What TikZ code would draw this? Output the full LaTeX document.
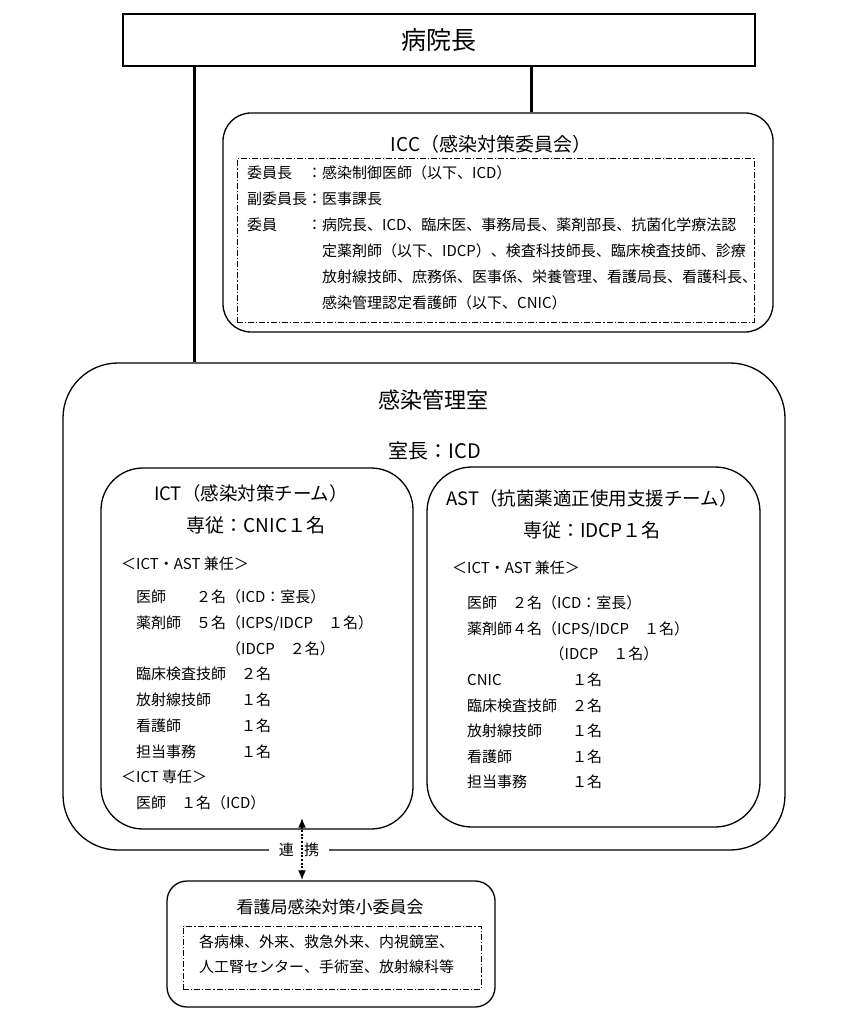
\documentclass[tikz,border=0pt]{standalone}
\usepackage{fontspec}
\setmainfont{Noto Sans CJK JP}
\usetikzlibrary{matrix,calc,arrows.meta}

\begin{document}
\begin{tikzpicture}[x=1pt,y=-1pt,font=\fontsize{15}{18}\selectfont,
 rbox/.style={draw,line width=1.3pt,inner sep=0pt,rounded corners=#1},
 ddbox/.style={draw,line width=1pt,inner sep=0pt,
 dash pattern=on 6pt off 2pt on 1.2pt off 2pt},
 conn/.style={line width=3pt},
 arr/.style={{Latex[length=10pt,width=8pt]}-{Latex[length=10pt,width=8pt]},
 line width=2.4pt,dash pattern=on 2pt off 1.6pt},
 ttl/.style={inner sep=0pt,font=\fontsize{#1}{#1}\selectfont},
 lst/.style={matrix of nodes,inner sep=0pt,anchor=north west,row sep=#1,
 nodes={anchor=west,inner sep=0pt,text height=13.5pt,text depth=2.5pt}},
 ]
 \useasboundingbox (0,0) rectangle (855,1024);
 \coordinate (xl) at (194,0);
 \coordinate (xr) at (531,0);
 \coordinate (xa) at (302,0);
 % head
 \node[draw,line width=2pt,minimum width=632pt,minimum height=52pt,
 font=\fontsize{25}{25}\selectfont] (head) at (439,40) {病院長};
 % ICC
 \node[rbox=28pt,minimum width=550pt,minimum height=219pt] (icc) at (498,222.5) {};
 \node[ttl=19] (icct) at (491,144) {ICC（感染対策委員会）};
 \node[ddbox,minimum width=517pt,minimum height=163pt] (iccd) at (495.5,240.5) {};
 \matrix[lst=10pt] (iccl) at (247,165) {
 委員長　：感染制御医師（以下、ICD）\\
 副委員長：医事課長\\
 委員　　：病院長、ICD、臨床医、事務局長、薬剤部長、抗菌化学療法認\\
 　　　　　定薬剤師（以下、IDCP）、検査科技師長、臨床検査技師、診療\\
 　　　　　放射線技師、庶務係、医事係、栄養管理、看護局長、看護科長、\\
 　　　　　感染管理認定看護師（以下、CNIC）\\
 };
 % kansen kanri shitsu
 \node[rbox=55pt,minimum width=722pt,minimum height=487pt] (kanri) at (424,606.5) {};
 \node[ttl=22] (kanrit) at (433,400) {感染管理室};
 \node[ttl=20] (kanris) at (435,451) {室長：ICD};
 % ICT
 \node[rbox=42pt,minimum width=312pt,minimum height=361pt] (ict) at (257,648.5) {};
 \node[ttl=18.5] (ictt) at (251,493) {ICT（感染対策チーム）};
 \node[ttl=19] (icts) at (256,525) {専従：CNIC１名};
 \matrix[lst=9.75pt] (ictl) at (121,556) {
 ＜ICT・AST 兼任＞\\[7.25pt]
 　医師　　２名（ICD：室長）\\
 　薬剤師　５名（ICPS/IDCP　１名）\\
 　　　　　　　（IDCP　２名）\\
 　臨床検査技師　２名\\
 　放射線技師　　１名\\
 　看護師　　　　１名\\
 　担当事務　　　１名\\
 ＜ICT 専任＞\\
 　医師　１名（ICD）\\
 };
 % AST
 \node[rbox=45pt,minimum width=333pt,minimum height=360pt] (ast) at (593.5,647) {};
 \node[ttl=18.5] (astt) at (592,498) {AST（抗菌薬適正使用支援チーム）};
 \node[ttl=19] (asts) at (592,530) {専従：IDCP１名};
 \matrix[lst=9.6pt] (astl) at (452,560) {
 ＜ICT・AST 兼任＞\\[9.4pt]
 　医師　２名（ICD：室長）\\
 　薬剤師４名（ICPS/IDCP　１名）\\
 　　　　　　\hspace{0.5em}（IDCP　１名）\\
 　\makebox[7em][l]{CNIC}１名\\
 　臨床検査技師　２名\\
 　放射線技師　　１名\\
 　看護師　　　　１名\\
 　担当事務　　　１名\\
 };
 % kangokyoku
 \node[rbox=20pt,minimum width=328pt,minimum height=126pt] (sub) at (331,944) {};
 \node[ttl=17] (subt) at (330,907) {看護局感染対策小委員会};
 \node[ddbox,minimum width=298pt,minimum height=63pt] (subd) at (332,957.5) {};
 \matrix[lst=9pt] (subl) at (199,934) {
 各病棟、外来、救急外来、内視鏡室、\\
 人工腎センター、手術室、放射線科等\\
 };
 % connectors
 \draw[conn] (head.south -| xl) -- (kanri.north -| xl);
 \draw[conn] (head.south -| xr) -- (icc.north -| xr);
 \node[fill=white,inner xsep=9.5pt,inner ysep=2pt] (renkei) at (299,850) {連\hspace{0.7em}携};
 \draw[arr] ($(ict.south -| xa)+(0,-12)$) -- (sub.north -| xa);
\end{tikzpicture}
\end{document}
